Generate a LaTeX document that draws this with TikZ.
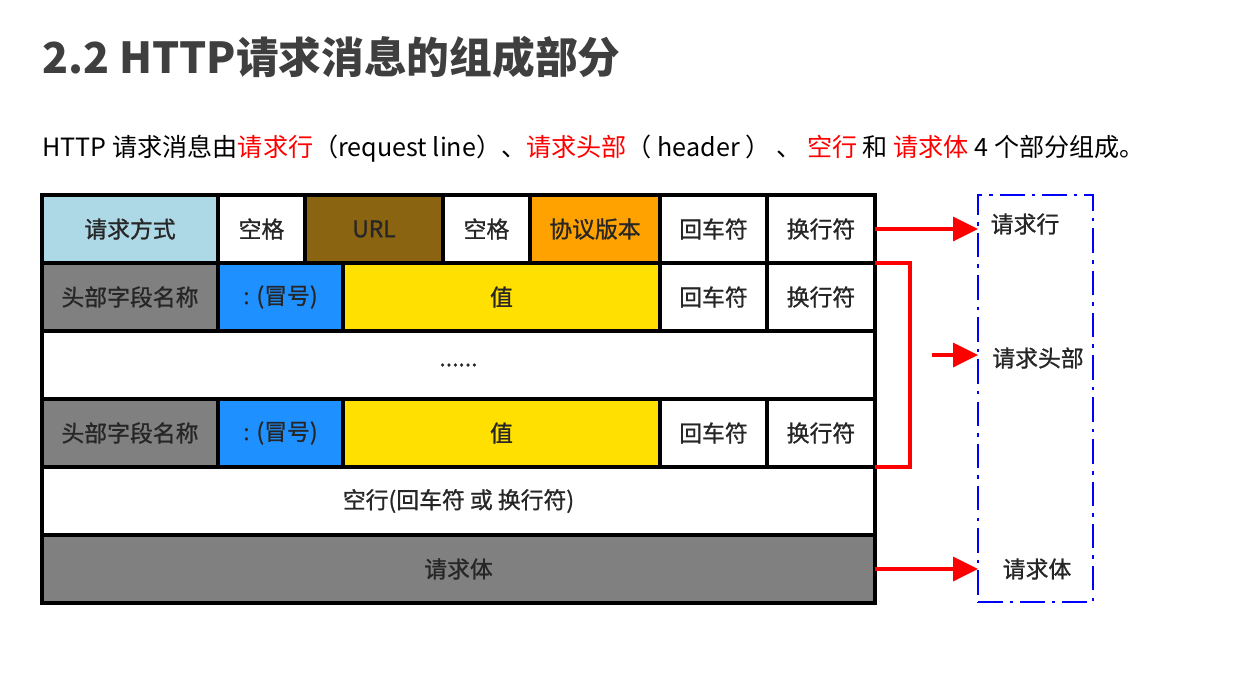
\documentclass[tikz,border=0pt]{standalone}
\usepackage{fontspec}
\setmainfont{Noto Sans CJK SC}
\newfontfamily\cellfont[FakeBold=1]{Noto Sans CJK SC}
\usetikzlibrary{positioning,arrows.meta}
\definecolor{reqblue}{HTML}{ADD8E6}
\definecolor{urlbrown}{HTML}{8B6412}
\definecolor{verorange}{HTML}{FFA200}
\definecolor{hdgray}{HTML}{808080}
\definecolor{colonblue}{HTML}{1E90FF}
\definecolor{valyellow}{HTML}{FFE000}
\definecolor{titlegray}{HTML}{3F3F3F}
\begin{document}
\begin{tikzpicture}[
  every node/.style={font=\cellfont\fontsize{13}{15}\selectfont,text=black!85},
  cell/.style={draw,line width=2pt,minimum height=1.36cm,inner sep=0pt,outer sep=0pt},
  link/.style={red,line width=2pt},
  tip/.style={-{Triangle[length=0.5cm,width=0.48cm]}}
]
\useasboundingbox (0,0) rectangle (24.72,-13.44);
% title and intro line
\node[anchor=base west,inner sep=0pt,font=\fontsize{24.3}{28}\selectfont\bfseries,text=titlegray] (title) at (0.84,-1.46) {2.2 HTTP请求消息的组成部分};
\node[anchor=base west,inner sep=0pt,font=\fontsize{14.3}{16}\selectfont,text=black] (intro) at (0.84,-3.12) {HTTP 请求消息由\textcolor{red}{请求行}（request line）、\textcolor{red}{请求头部}（ header ） 、 \textcolor{red}{空行} 和 \textcolor{red}{请求体} 4 个部分组成。};
% request line
\node[cell,fill=reqblue,minimum width=3.52cm,anchor=north west] (rl1) at (0.84,-3.9) {请求方式};
\node[cell,minimum width=1.74cm,right=0pt of rl1] (rl2) {空格};
\node[cell,fill=urlbrown,minimum width=2.76cm,right=0pt of rl2] (rl3) {URL};
\node[cell,minimum width=1.74cm,right=0pt of rl3] (rl4) {空格};
\node[cell,fill=verorange,minimum width=2.60cm,right=0pt of rl4] (rl5) {协议版本};
\node[cell,minimum width=2.14cm,right=0pt of rl5] (rl6) {回车符};
\node[cell,minimum width=2.16cm,right=0pt of rl6] (rl7) {换行符};
% first header field
\node[cell,fill=hdgray,minimum width=3.52cm,below=0pt of rl1] (hf1) {头部字段名称};
\node[cell,fill=colonblue,minimum width=2.50cm,right=0pt of hf1] (hf2) {: (冒号)};
\node[cell,fill=valyellow,minimum width=6.34cm,right=0pt of hf2] (hf3) {值};
\node[cell,minimum width=2.14cm,right=0pt of hf3] (hf4) {回车符};
\node[cell,minimum width=2.16cm,right=0pt of hf4] (hf5) {换行符};
% more fields
\node[cell,minimum width=16.66cm,below=0pt of hf1.south west,anchor=north west] (dots) {......};
% last header field
\node[cell,fill=hdgray,minimum width=3.52cm,below=0pt of dots.south west,anchor=north west] (hg1) {头部字段名称};
\node[cell,fill=colonblue,minimum width=2.50cm,right=0pt of hg1] (hg2) {: (冒号)};
\node[cell,fill=valyellow,minimum width=6.34cm,right=0pt of hg2] (hg3) {值};
\node[cell,minimum width=2.14cm,right=0pt of hg3] (hg4) {回车符};
\node[cell,minimum width=2.16cm,right=0pt of hg4] (hg5) {换行符};
% blank line and body
\node[cell,minimum width=16.66cm,below=0pt of hg1.south west,anchor=north west] (blank) {空行(回车符 或 换行符)};
\node[cell,fill=hdgray,minimum width=16.66cm,below=0pt of blank.south west,anchor=north west] (body) {请求体};
% parts box
\node[draw=blue,line width=1.6pt,dash pattern=on 14pt off 4pt on 2pt off 4pt,minimum width=2.3cm,minimum height=8.14cm,inner sep=0pt,outer sep=0pt,anchor=north west] (grp) at (19.56,-3.9) {};
\node (lbl1) at (20.5,-4.48) {请求行};
\node (lbl2) at (20.76,-7.16) {请求头部};
\node (lbl3) at (20.74,-11.38) {请求体};
% connectors
\draw[link] (hf5.north east) -- ++(0.7,0) |- (hg5.south east);
\coordinate (hmid) at (18.64,-7.1);
\draw[link,tip] (rl7.east) -- (rl7.east -| grp.west);
\draw[link,tip] (hmid) -- (hmid -| grp.west);
\draw[link,tip] (body.east) -- (body.east -| grp.west);
\end{tikzpicture}
\end{document}
